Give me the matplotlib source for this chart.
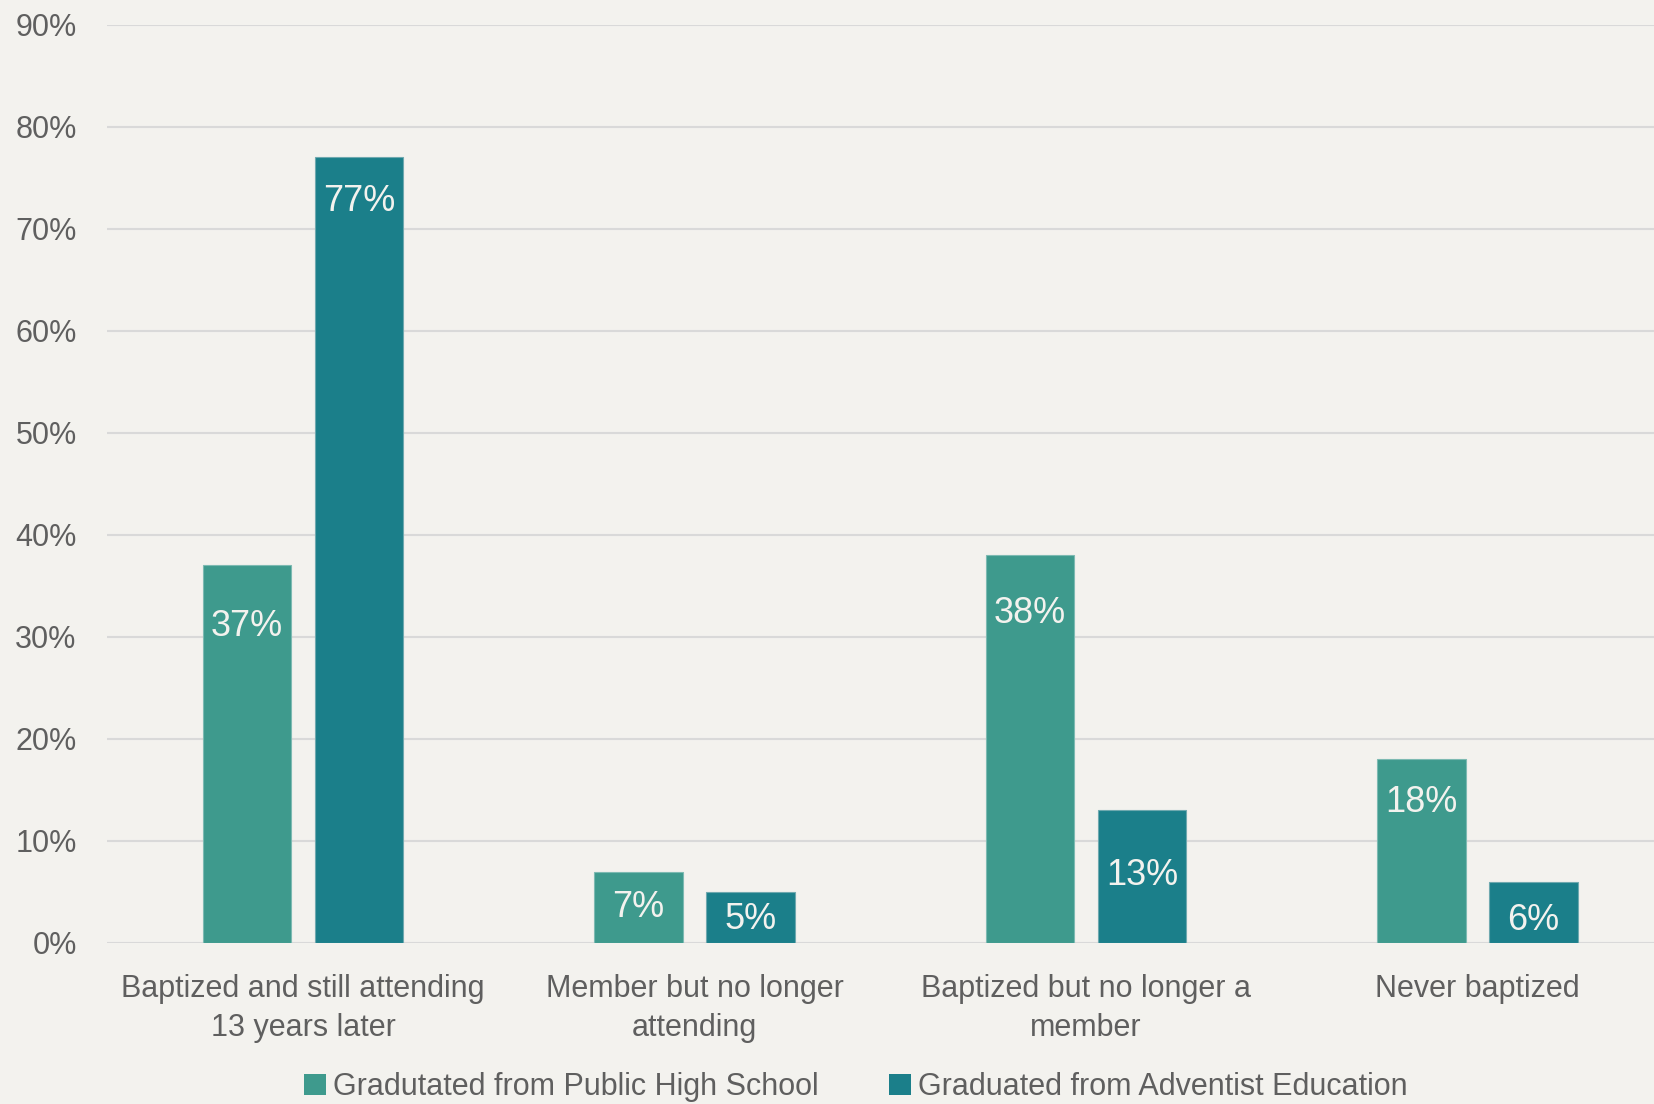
import numpy as np
import matplotlib
matplotlib.use("Agg")
import matplotlib.pyplot as plt
from matplotlib.patches import Patch

categories = ["Baptized and still attending\n13 years later",
              "Member but no longer\nattending",
              "Baptized but no longer a\nmember",
              "Never baptized"]
series_names = ["Gradutated from Public High School",
                "Graduated from Adventist Education"]
public_vals = [37, 7, 38, 18]
adventist_vals = [77, 5, 13, 6]
yticks = [0, 10, 20, 30, 40, 50, 60, 70, 80, 90]

# label offsets below bar top (points), as placed in the original
public_off = [44, 26, 42, 31]
adventist_off = [32, 20, 47, 28]

C_PUB = "#3E9A8D"
C_ADV = "#1B7F8A"
BG = "#F3F2EE"
TXT = "#5F5F5F"

plt.rcParams["font.family"] = ["Liberation Sans", "DejaVu Sans"]

fig = plt.figure(figsize=(16.54, 11.04), dpi=100, facecolor=BG)
ax = fig.add_axes([107.25 / 1654, 1 - 943 / 1104, 1566 / 1654, (943 - 24.5) / 1104])
ax.set_facecolor(BG)

x = np.arange(len(categories))
w = 0.225
d = 0.143
b1 = ax.bar(x - d, public_vals, w, color=C_PUB, edgecolor="#7DBAB2", linewidth=0.8, zorder=3)
b2 = ax.bar(x + d, adventist_vals, w, color=C_ADV, edgecolor="#6FA9AF", linewidth=0.8, zorder=3)

for bars, vals, offs in [(b1, public_vals, public_off), (b2, adventist_vals, adventist_off)]:
    for r, v, o in zip(bars, vals, offs):
        ax.annotate(f"{v}%", (r.get_x() + r.get_width() / 2, v), xytext=(0, -o),
                    textcoords="offset points", ha="center", va="center",
                    color="#F3F2EE", fontsize=26, zorder=4)

ax.set_xlim(-0.5, 3.5)
ax.set_ylim(0, 90)
ax.set_yticks(yticks)
ax.set_yticklabels([f"{t}%" for t in yticks])
ax.set_xticks(x)
ax.set_xticklabels(categories, linespacing=1.4)
ax.tick_params(axis="y", length=0, pad=22, labelsize=22, labelcolor=TXT)
ax.tick_params(axis="x", length=0, pad=22, labelsize=22, labelcolor=TXT)
ax.grid(axis="y", color="#D9D9D9", linewidth=1.5, zorder=0)
for s in ax.spines.values():
    s.set_visible(False)

handles = [Patch(facecolor=C_PUB), Patch(facecolor=C_ADV)]
fig.legend(handles, series_names, loc="center", bbox_to_anchor=(856 / 1654, 1 - 1087 / 1104),
           ncol=2, frameon=False, fontsize=22, labelcolor=TXT,
           handlelength=0.7, handleheight=0.7, handletextpad=0.25, columnspacing=2.3,
           borderpad=0, borderaxespad=0)

fig.savefig("out.png", dpi=100, facecolor=BG)
